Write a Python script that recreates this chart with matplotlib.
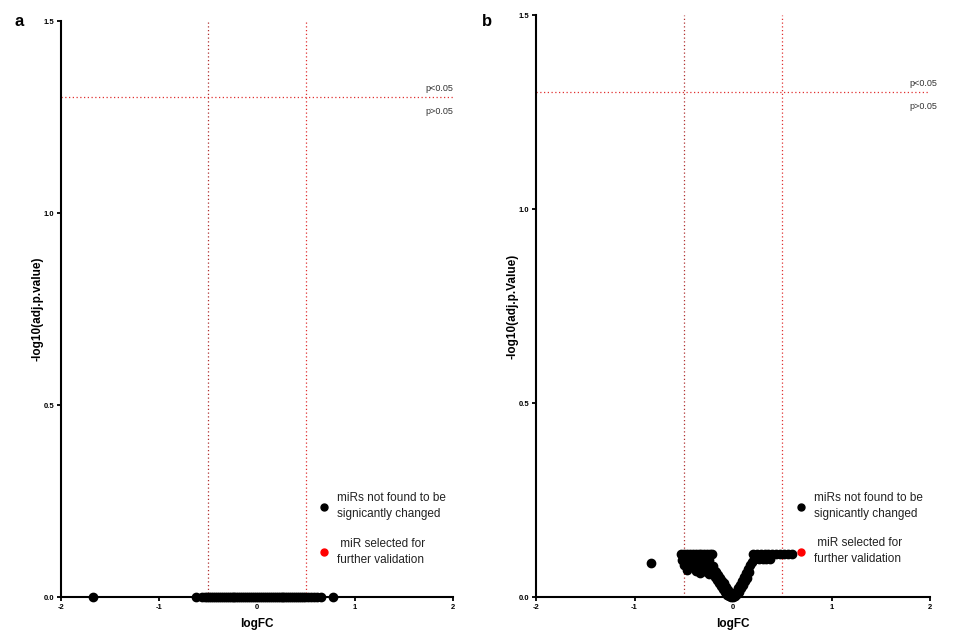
import matplotlib
matplotlib.use("Agg")
import matplotlib.pyplot as plt
from matplotlib.lines import Line2D

plt.rcParams['font.family'] = ['Liberation Sans', 'DejaVu Sans']
plt.rcParams['axes.unicode_minus'] = False

# panel a: every miR sits on adj.p = 1 -> -log10 = 0
a_logfc = [-1.67, -0.62, -0.56, -0.53, -0.51, -0.49, -0.47, -0.45, -0.43, -0.41,
           -0.39, -0.37, -0.35, -0.33, -0.31, -0.29, -0.27, -0.25, -0.23, -0.21,
           -0.19, -0.17, -0.15, -0.13, -0.11, -0.09, -0.07, -0.05, -0.03, -0.01,
           0.01, 0.03, 0.05, 0.07, 0.09, 0.11, 0.13, 0.15, 0.17, 0.19,
           0.21, 0.23, 0.25, 0.27, 0.29, 0.31, 0.33, 0.35, 0.37, 0.39,
           0.41, 0.43, 0.45, 0.47, 0.49, 0.52, 0.55, 0.58, 0.61, 0.65, 0.78]
a_logp = [0.0, 0.0, 0.0, 0.0, 0.0, 0.0, 0.0, 0.0, 0.0, 0.0,
          0.0, 0.0, 0.0, 0.0, 0.0, 0.0, 0.0, 0.0, 0.0, 0.0,
          0.0, 0.0, 0.0, 0.0, 0.0, 0.0, 0.0, 0.0, 0.0, 0.0,
          0.0, 0.0, 0.0, 0.0, 0.0, 0.0, 0.0, 0.0, 0.0, 0.0,
          0.0, 0.0, 0.0, 0.0, 0.0, 0.0, 0.0, 0.0, 0.0, 0.0,
          0.0, 0.0, 0.0, 0.0, 0.0, 0.0, 0.0, 0.0, 0.0, 0.0, 0.0]

# panel b
b_logfc = [-0.83,
           -0.53, -0.50, -0.47, -0.44, -0.41, -0.38, -0.35, -0.32, -0.29, -0.26, -0.23, -0.21,
           -0.52, -0.48, -0.44, -0.40, -0.36, -0.32, -0.28, -0.24,
           -0.50, -0.42, -0.35, -0.30, -0.25, -0.20,
           -0.47, -0.38, -0.30, -0.22, -0.18, -0.34, -0.26,
           -0.17, -0.15, -0.13, -0.11, -0.09, -0.07, -0.05, -0.03, -0.01, 0.00,
           -0.20, -0.18, -0.16, -0.14, -0.12, -0.10, -0.08, -0.06, -0.04, -0.02,
           -0.24, -0.21,
           0.01, 0.03, 0.05, 0.07, 0.09, 0.11, 0.13, 0.15, 0.17, 0.19, 0.21, 0.23,
           0.02, 0.04, 0.06, 0.08, 0.10, 0.12, 0.14, 0.16,
           0.20, 0.24, 0.28, 0.32, 0.36, 0.40, 0.44, 0.48, 0.52, 0.56, 0.60,
           0.22, 0.26, 0.30, 0.34, 0.38]
b_logp = [0.088,
          0.110, 0.110, 0.110, 0.110, 0.110, 0.110, 0.110, 0.110, 0.110, 0.110, 0.110, 0.110,
          0.095, 0.095, 0.095, 0.095, 0.095, 0.095, 0.095, 0.095,
          0.082, 0.080, 0.080, 0.080, 0.080, 0.080,
          0.070, 0.068, 0.066, 0.070, 0.068, 0.062, 0.064,
          0.065, 0.056, 0.050, 0.042, 0.035, 0.026, 0.018, 0.010, 0.004, 0.000,
          0.058, 0.052, 0.044, 0.036, 0.028, 0.020, 0.012, 0.006, 0.002, 0.001,
          0.060, 0.064,
          0.004, 0.012, 0.022, 0.032, 0.042, 0.052, 0.062, 0.072, 0.082, 0.090, 0.098, 0.102,
          0.002, 0.008, 0.014, 0.022, 0.030, 0.040, 0.050, 0.064,
          0.110, 0.110, 0.110, 0.110, 0.110, 0.110, 0.110, 0.110, 0.110, 0.110, 0.110,
          0.097, 0.097, 0.097, 0.097, 0.097]

x_ticks = [-2, -1, 0, 1, 2]
y_ticks = [0.0, 0.5, 1.0, 1.5]
y_tick_labels = ['0.0', '0.5', '1.0', '1.5']
fc_cut = 0.5
p_cut = 1.301

fig = plt.figure(figsize=(9.57, 6.32), dpi=100)
ax_a = fig.add_axes([61 / 957, 35 / 632, 392 / 957, 576 / 632])
ax_b = fig.add_axes([536 / 957, 35 / 632, 394 / 957, 582 / 632])

panels = [
    (ax_a, a_logfc, a_logp, '-log10(adj.p.value)', 1.0),
    (ax_b, b_logfc, b_logp, '-log10(adj.p.Value)', 1.018),
]

for ax, xs, ys, ylab, ptxt_x in panels:
    ax.set_xlim(-2, 2)
    ax.set_ylim(0, 1.5)
    ax.axvline(-fc_cut, color='#b03030', ls=(0, (1, 2)), lw=0.9, zorder=1)
    ax.axvline(fc_cut, color='#e03030', ls=(0, (1, 2)), lw=0.9, zorder=1)
    ax.axhline(p_cut, color='#e03030', ls=(0, (1, 2)), lw=0.9, zorder=1)
    ax.plot(xs, ys, 'o', color='black', ms=6, clip_on=False, zorder=3)

    for s in ['top', 'right']:
        ax.spines[s].set_visible(False)
    for s in ['left', 'bottom']:
        ax.spines[s].set_linewidth(1.5)
    ax.set_xticks(x_ticks)
    ax.set_yticks(y_ticks, y_tick_labels)
    ax.tick_params(length=3, width=1.3, labelsize=5.5, pad=2)
    for lbl in ax.get_xticklabels() + ax.get_yticklabels():
        lbl.set_fontweight('bold')
    ax.set_xlabel('logFC', fontsize=8.5, fontweight='bold', labelpad=5)
    ax.set_ylabel(ylab, fontsize=8.5, fontweight='bold', labelpad=0)

    ax.text(ptxt_x, p_cut + 0.012, 'p<0.05', transform=ax.get_yaxis_transform(),
            ha='right', va='bottom', fontsize=6.5, color='#333333')
    ax.text(ptxt_x, p_cut - 0.025, 'p>0.05', transform=ax.get_yaxis_transform(),
            ha='right', va='top', fontsize=6.5, color='#333333')

    handles = [
        Line2D([], [], ls='none', marker='o', color='black', ms=5),
        Line2D([], [], ls='none', marker='o', color='red', ms=5),
    ]
    leg = ax.legend(handles, ['miRs not found to be\nsignicantly changed',
                              ' miR selected for\nfurther validation'],
                    loc='lower left', bbox_to_anchor=(0.63, 0.036), frameon=False,
                    fontsize=8.5, handlelength=1.0, handletextpad=0.6,
                    labelspacing=1.45, labelcolor='#222222')
    for t in leg.get_texts():
        t.set_linespacing(1.45)

fig.text(15 / 957, 1 - 22 / 632, 'a', fontsize=12, fontweight='bold', va='center')
fig.text(482 / 957, 1 - 22 / 632, 'b', fontsize=12, fontweight='bold', va='center')

fig.savefig('out.png', dpi=100)
